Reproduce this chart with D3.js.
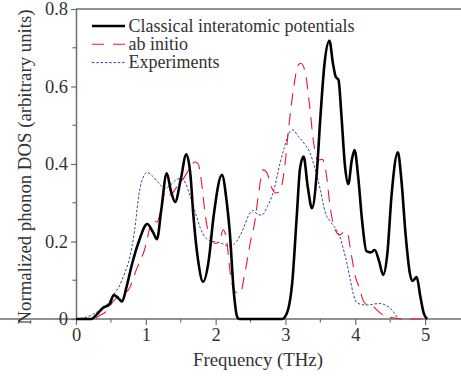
<!DOCTYPE html>
<html><head><meta charset="utf-8">
<script src="https://cdn.jsdelivr.net/npm/d3@7"></script>
<style>body{margin:0;background:#fff}svg{display:block}</style>
</head><body>
<svg id="c" width="461" height="377"></svg>
<script>
const seriesNames = ["Classical interatomic potentials", "ab initio", "Experiments"];
const xTicks = [0, 1, 2, 3, 4, 5];
const yTicks = [0, 0.2, 0.4, 0.6, 0.8];

const classicalF = [0,0.22,0.30,0.38,0.48,0.54,0.60,0.66,0.72,0.80,0.90,1.02,1.10,1.16,1.22,1.30,1.36,1.42,1.50,1.58,1.64,1.68,1.75,1.82,1.90,1.97,2.09,2.16,2.20,2.26,2.31,2.34,2.95,3.02,3.10,3.16,3.21,3.26,3.32,3.38,3.45,3.50,3.56,3.63,3.68,3.72,3.76,3.80,3.85,3.90,3.95,3.99,4.04,4.10,4.16,4.22,4.28,4.34,4.40,4.46,4.52,4.61,4.66,4.72,4.78,4.82,4.88,4.93,4.98,5.03];
const classicalV = [0,0,0.012,0.028,0.038,0.062,0.055,0.045,0.08,0.14,0.20,0.245,0.225,0.206,0.28,0.376,0.33,0.302,0.36,0.425,0.37,0.27,0.15,0.096,0.15,0.264,0.372,0.30,0.23,0.07,0.005,0,0,0.015,0.10,0.26,0.39,0.419,0.34,0.286,0.38,0.52,0.66,0.718,0.66,0.625,0.617,0.53,0.40,0.348,0.41,0.436,0.37,0.25,0.175,0.172,0.178,0.15,0.114,0.17,0.32,0.43,0.36,0.22,0.12,0.098,0.108,0.06,0.015,0];

const abInitioF = [0,0.25,0.33,0.43,0.53,0.63,0.75,0.87,0.98,1.06,1.11,1.16,1.22,1.28,1.35,1.44,1.53,1.63,1.70,1.75,1.80,1.85,1.92,2.00,2.05,2.11,2.16,2.21,2.28,2.35,2.42,2.50,2.56,2.62,2.68,2.74,2.80,2.86,2.92,2.98,3.05,3.12,3.18,3.22,3.28,3.34,3.40,3.46,3.53,3.58,3.64,3.70,3.78,3.84,3.88,3.94,4.00,4.06,4.12,4.18,4.24,4.30,4.36,4.46,4.59,4.65,5.0];
const abInitioV = [0,0,0.008,0.019,0.045,0.062,0.075,0.13,0.178,0.235,0.255,0.25,0.285,0.33,0.32,0.34,0.36,0.389,0.405,0.40,0.35,0.27,0.21,0.195,0.20,0.23,0.20,0.118,0.07,0.066,0.12,0.20,0.25,0.33,0.385,0.375,0.34,0.325,0.33,0.38,0.50,0.60,0.655,0.66,0.64,0.56,0.46,0.41,0.412,0.38,0.29,0.235,0.217,0.225,0.225,0.17,0.11,0.08,0.045,0.036,0.035,0.025,0.015,0.006,0.002,0,0];

const expF = [0,0.15,0.24,0.36,0.48,0.56,0.62,0.70,0.76,0.84,0.90,0.96,1.02,1.10,1.20,1.27,1.35,1.44,1.51,1.57,1.63,1.70,1.78,1.87,1.97,2.06,2.20,2.30,2.40,2.48,2.54,2.60,2.66,2.74,2.83,2.92,2.98,3.05,3.10,3.19,3.28,3.35,3.42,3.50,3.57,3.65,3.73,3.78,3.83,3.88,3.93,3.97,4.02,4.10,4.18,4.28,4.36,4.44,4.50,4.56,4.62];
const expV = [0,0.005,0.012,0.025,0.045,0.068,0.085,0.12,0.152,0.23,0.32,0.365,0.378,0.368,0.348,0.337,0.345,0.36,0.363,0.35,0.32,0.28,0.235,0.207,0.20,0.197,0.188,0.20,0.235,0.27,0.28,0.27,0.268,0.29,0.33,0.40,0.44,0.48,0.488,0.47,0.45,0.43,0.39,0.333,0.275,0.25,0.23,0.212,0.18,0.144,0.10,0.066,0.043,0.037,0.036,0.039,0.04,0.035,0.028,0.015,0];

const svg = d3.select("#c");
const font = "'Liberation Serif','Times New Roman',serif";
const axisColor = "#6e6e6e";
const textColor = "#333";

const x = d3.scaleLinear().domain([0, 5.5]).range([76, 460]);
const y = d3.scaleLinear().domain([0, 0.8]).range([319, 9]);

// frame top line
svg.append("line").attr("x1", 76).attr("x2", 461).attr("y1", y(0.8)).attr("y2", y(0.8))
  .attr("stroke", axisColor).attr("stroke-width", 1.5);

// minor ticks
const xMinor = d3.range(0.5, 5.5, 1);
const yMinor = [0.1, 0.3, 0.5, 0.7];
svg.append("g").selectAll("line").data(xMinor).join("line")
  .attr("x1", d => x(d)).attr("x2", d => x(d)).attr("y1", y(0)).attr("y2", y(0) + 3.5)
  .attr("stroke", axisColor).attr("stroke-width", 1.2);
svg.append("g").selectAll("line").data(yMinor).join("line")
  .attr("y1", d => y(d)).attr("y2", d => y(d)).attr("x1", x(0)).attr("x2", x(0) - 3.5)
  .attr("stroke", axisColor).attr("stroke-width", 1.2);

const xAxis = svg.append("g").attr("transform", `translate(0,${y(0)})`)
  .call(d3.axisBottom(x).tickValues(xTicks).tickSize(6).tickSizeOuter(0).tickPadding(3).tickFormat(d3.format("d")));
const yAxis = svg.append("g").attr("transform", `translate(${x(0)},0)`)
  .call(d3.axisLeft(y).tickValues(yTicks).tickSize(5).tickSizeOuter(0).tickPadding(3)
    .tickFormat(d => d === 0 ? "0" : d3.format(".1f")(d)));
[xAxis, yAxis].forEach(g => {
  g.select(".domain").attr("stroke", axisColor).attr("stroke-width", 1.5);
  g.selectAll(".tick line").attr("stroke", axisColor).attr("stroke-width", 1.2);
  g.selectAll(".tick text").attr("fill", textColor).style("font-family", font).style("font-size", "18.5px");
});
// extend bottom axis to right edge
xAxis.select(".domain").attr("d", `M0,0H${461}`);

// axis titles
svg.append("text").attr("x", 258).attr("y", 366).attr("text-anchor", "middle")
  .attr("fill", textColor).style("font-family", font).style("font-size", "18.8px").text("Frequency (THz)");
svg.append("text").attr("transform", "translate(31,167) rotate(-90)").attr("text-anchor", "middle")
  .attr("fill", textColor).style("font-family", font).style("font-size", "18.8px")
  .text("Normalized phonon DOS (arbitrary units)");

const line = d3.line().x(d => x(d[0])).y(d => y(d[1])).curve(d3.curveMonotoneX);
const styles = [
  {color: "#000000", width: 2.6, dash: null},
  {color: "#e8163c", width: 1.1, dash: "12,8"},
  {color: "#3b3fa6", width: 1.0, dash: "2.5,1.8"}
];
const data = [
  d3.zip(classicalF, classicalV),
  d3.zip(abInitioF, abInitioV),
  d3.zip(expF, expV)
];
// draw experiments, ab initio, then classical on top
[2, 1, 0].forEach(i => {
  svg.append("path").datum(data[i]).attr("d", line).attr("fill", "none")
    .attr("stroke", styles[i].color).attr("stroke-width", styles[i].width)
    .attr("stroke-dasharray", styles[i].dash).attr("stroke-linejoin", "round");
});

// legend
const legY = [26, 44.3, 62.6];
seriesNames.forEach((n, i) => {
  svg.append("line").attr("x1", 92).attr("x2", 125).attr("y1", legY[i]).attr("y2", legY[i])
    .attr("stroke", styles[i].color).attr("stroke-width", i === 0 ? 2.4 : styles[i].width)
    .attr("stroke-dasharray", i === 1 ? "12,9" : styles[i].dash);
  svg.append("text").attr("x", 128.5).attr("y", legY[i] + 5.5).attr("fill", textColor)
    .style("font-family", font).style("font-size", "18px").text(n);
});
</script>
</body></html>
